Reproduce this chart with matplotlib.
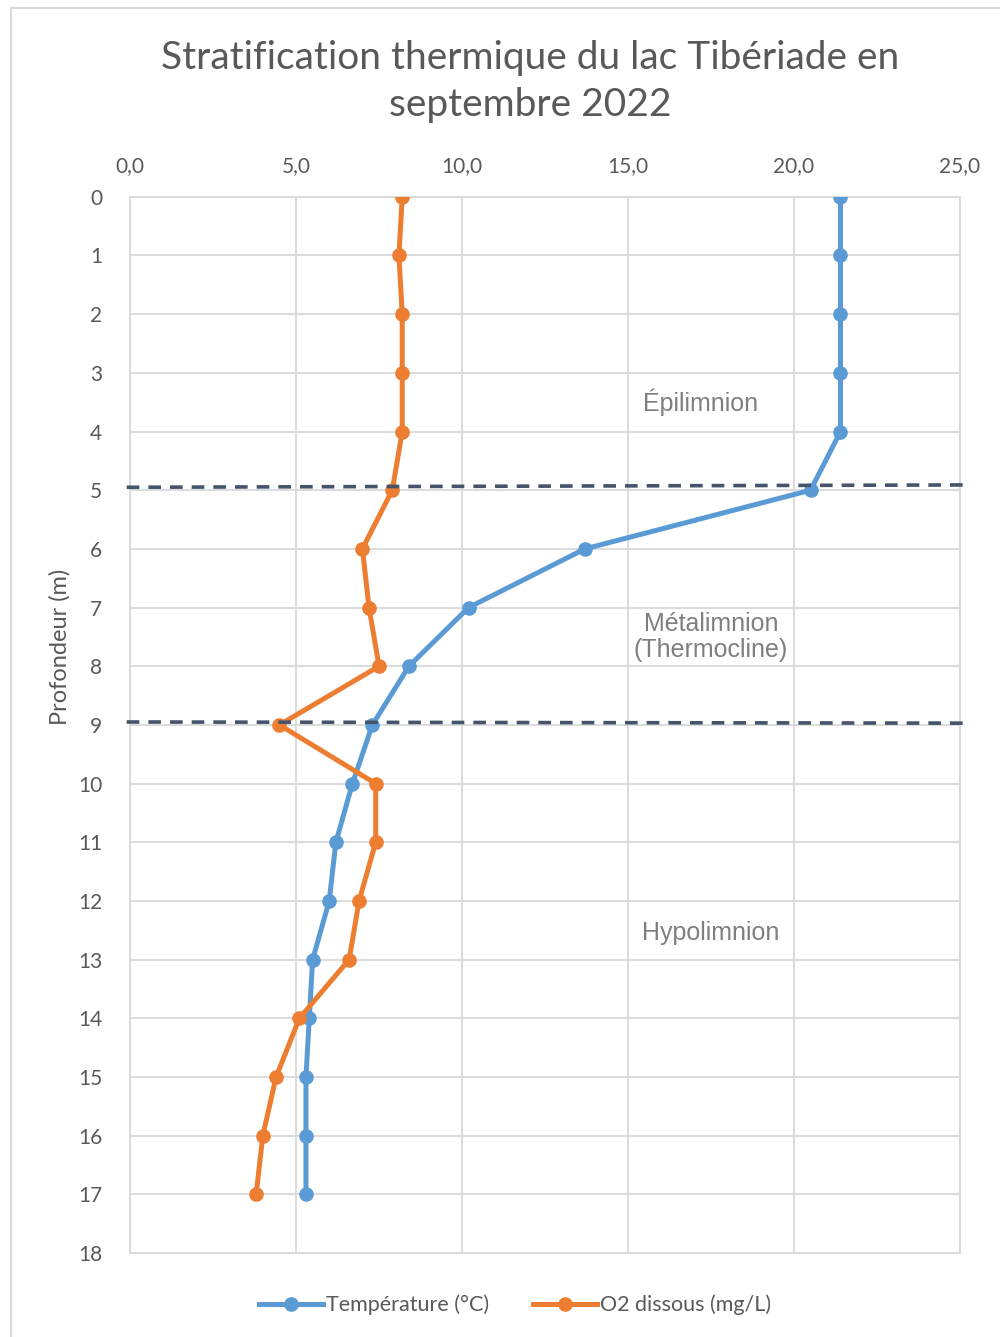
import matplotlib.pyplot as plt
from matplotlib.lines import Line2D
from matplotlib.ticker import FuncFormatter

plt.rcParams["font.family"] = ["Lato", "DejaVu Sans"]

depth = [0, 1, 2, 3, 4, 5, 6, 7, 8, 9, 10, 11, 12, 13, 14, 15, 16, 17]
temperature = [21.4, 21.4, 21.4, 21.4, 21.4, 20.5, 13.7, 10.2, 8.4, 7.3,
               6.7, 6.2, 6.0, 5.5, 5.4, 5.3, 5.3, 5.3]
oxygen = [8.2, 8.1, 8.2, 8.2, 8.2, 7.9, 7.0, 7.2, 7.5, 4.5,
          7.4, 7.4, 6.9, 6.6, 5.1, 4.4, 4.0, 3.8]

layer_names = ["Épilimnion", "Métalimnion\n(Thermocline)", "Hypolimnion"]
layer_x = [17.2, 17.5, 17.5]
layer_y = [3.5, 7.5, 12.55]

blue = "#5B9BD5"
orange = "#ED7D31"
grey_text = "#595959"
grid_col = "#D9D9D9"

fig = plt.figure(figsize=(10, 13.37), dpi=100)
ax = fig.add_axes([0.13, 0.0628, 0.83, 0.79])

ax.plot(temperature, depth, color=blue, lw=3.6, marker="o", ms=9.5,
        label="Température (°C)", zorder=3)
ax.plot(oxygen, depth, color=orange, lw=3.6, marker="o", ms=9.5,
        label="O2 dissous (mg/L)", zorder=3)

ax.set_xlim(0, 25)
ax.set_ylim(18, 0)
ax.set_xticks(range(0, 26, 5))
ax.set_yticks(range(0, 19))
ax.xaxis.set_major_formatter(FuncFormatter(lambda v, p: f"{v:.1f}".replace(".", ",")))
ax.xaxis.tick_top()
ax.tick_params(length=0, labelsize=15, colors=grey_text, pad=15)
ax.tick_params(axis="y", pad=20)
ax.grid(color=grid_col, lw=1.3, zorder=0)
for s in ax.spines.values():
    s.set_color(grid_col)
    s.set_linewidth(1.3)

ax.set_ylabel("Profondeur (m)", fontsize=17, color=grey_text)
ax.yaxis.set_label_coords(-0.071, 0.574)

# layer boundaries
ax.plot([-0.1, 25.25], [4.95, 4.91], ls=(0, (3.5, 2.5)), color="#44546A",
        lw=2.6, clip_on=False, zorder=4)
ax.plot([-0.1, 25.25], [8.95, 8.97], ls=(0, (3.5, 2.5)), color="#44546A",
        lw=2.6, clip_on=False, zorder=4)

for name, x, y in zip(layer_names, layer_x, layer_y):
    ax.text(x, y, name, ha="center", va="center", fontsize=18,
            color="#7F7F7F", family="Liberation Sans", linespacing=1.1)

fig.text(0.53, 0.939, "Stratification thermique du lac Tibériade en\nseptembre 2022",
         ha="center", va="center", fontsize=28, color=grey_text, linespacing=1.35)

fig.legend(loc="center", bbox_to_anchor=(0.515, 0.024), ncol=2, frameon=False,
           fontsize=15.5, labelcolor=grey_text, handlelength=3.0,
           handletextpad=0.15, columnspacing=2.0)

# chart border (only left and top visible)
fig.add_artist(Line2D([0.0105, 0.0105], [0, 0.994], color=grid_col, lw=1.5,
                      transform=fig.transFigure))
fig.add_artist(Line2D([0.0105, 1], [0.994, 0.994], color=grid_col, lw=1.5,
                      transform=fig.transFigure))

fig.savefig("out.png", dpi=100)
